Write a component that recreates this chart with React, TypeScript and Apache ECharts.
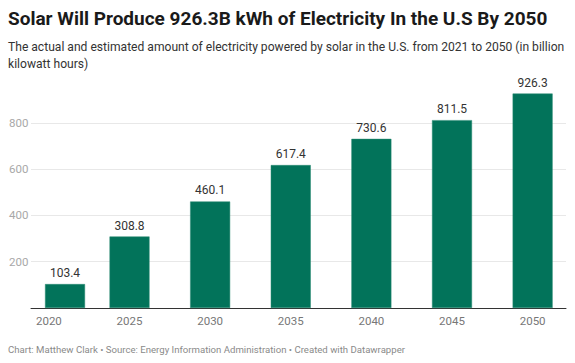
import React, { useEffect, useRef } from "react";
import * as echarts from "echarts";

const years = [2021, 2025, 2030, 2035, 2040, 2045, 2050];
const values = [103.4, 308.8, 460.1, 617.4, 730.6, 811.5, 926.3];
const xTickLabels = [2020, 2025, 2030, 2035, 2040, 2045, 2050];
const yTicks = [0, 200, 400, 600, 800, 1000];

const titleText = "Solar Will Produce 926.3B kWh of Electricity In the U.S By 2050";
const subtitleLines = [
  "The actual and estimated amount of electricity powered by solar in the U.S. from 2021 to 2050 (in billion",
  "kilowatt hours)",
];
const footerText =
  "Chart: Matthew Clark \u2022 Source: Energy Information Administration \u2022 Created with Datawrapper";

export default function App() {
  const ref = useRef<HTMLDivElement>(null);
  useEffect(() => {
    if (!ref.current) return;
    const chart = echarts.init(ref.current, null, { renderer: "svg" });
    const font = "Roboto, 'Noto Sans', sans-serif";
    chart.setOption({
      animation: false,
      textStyle: { fontFamily: font },
      grid: { left: 31, right: 9, top: 76.5, bottom: 55, containLabel: false },
      xAxis: {
        type: "value",
        min: 2018.89,
        max: 2052.07,
        splitLine: { show: false },
        axisLine: { show: true, lineStyle: { color: "#333333", width: 1 } },
        axisTick: { show: false },
        axisLabel: {
          customValues: xTickLabels,
          formatter: (v: number) => String(v),
          color: "#777777",
          fontSize: 11.5,
          fontFamily: font,
          margin: 7,
        },
      },
      yAxis: {
        type: "value",
        min: yTicks[0],
        max: yTicks[yTicks.length - 1],
        interval: 200,
        axisLine: { show: false },
        axisTick: { show: false },
        splitLine: { show: true, showMinLine: false, showMaxLine: false, lineStyle: { color: "#e8e8e8", width: 1 } },
        axisLabel: {
          align: "left",
          margin: 22,
          color: "#a8a8a8",
          fontSize: 11.5,
          fontFamily: font,
          showMinLabel: false,
          showMaxLabel: false,
          verticalAlign: "middle",
        },
      },
      series: [
        {
          type: "bar",
          data: years.map((y, i) => [y, values[i]]),
          barWidth: 40,
          itemStyle: { color: "#02735a", borderColor: "#2a8a73", borderWidth: 0.5 },
          label: {
            show: true,
            position: "top",
            distance: 5,
            color: "#333333",
            fontSize: 12,
            fontFamily: font,
            formatter: (p: any) => p.value[1].toFixed(1),
          },
        },
      ],
      graphic: [
        {
          type: "text",
          left: 8,
          top: 9,
          style: { text: titleText, fontSize: 19, fontWeight: "bold", fill: "#1a1a1a", fontFamily: font },
        },
        {
          type: "text",
          left: 8,
          top: 39,
          style: {
            text: subtitleLines.join("\n"),
            fontSize: 12.1,
            lineHeight: 16.5,
            fill: "#333333",
            fontFamily: font,
          },
        },
        {
          type: "text",
          left: 8,
          top: 344,
          style: { text: footerText, fontSize: 9.6, fill: "#8a8a8a", fontFamily: font },
        },
      ],
    });
    return () => chart.dispose();
  }, []);
  return <div ref={ref} style={{ width: 575, height: 363, position: "absolute", left: 0, top: 0 }} />;
}
